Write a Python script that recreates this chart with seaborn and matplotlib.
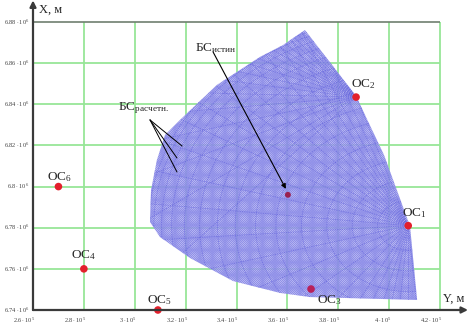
'''
Position fan of the base station computed from six observation stations.
Axes follow the geodetic convention: X is north (vertical), Y is east.
'''

import numpy as np
import pandas as pd
import matplotlib
matplotlib.use('Agg')
import matplotlib.pyplot as plt
from matplotlib.collections import LineCollection
from matplotlib.patches import Polygon
import seaborn as sns

# Data ------------------------------------------------------------------------

station_names = ['ОС$_1$', 'ОС$_2$', 'ОС$_3$', 'ОС$_4$', 'ОС$_5$', 'ОС$_6$']
station_y = [407500, 387000, 369300, 280000, 309100, 270000]
station_x = [6781000, 6843500, 6750200, 6760000, 6740000, 6800000]
# label offsets from the dot, in points
label_dx = [-4.5, -3.5, 4.5, -9.5, -7.5, -8.0]
label_dy = [7.0, 7.0, -10.0, 8.0, 5.0, 4.5]

bs_true_y, bs_true_x = 360200, 6796000

# outline of the cloud of computed positions (Y, X)
fan_edge_y = [366900, 387000, 398000, 408200, 411000, 368900, 357100, 338600,
              321700, 309900, 306000, 306400, 308700, 311900, 317800, 332300,
              349200, 358300]
fan_edge_x = [6876100, 6844000, 6815300, 6780800, 6744900, 6746300, 6748300,
              6754100, 6765300, 6775500, 6782800, 6798300, 6812900, 6825100,
              6832400, 6849400, 6863000, 6868800]

# directions (deg) of the visible rays and radii (km) of the visible arcs
rays_oc1 = [108, 111, 114, 117, 120, 124, 128, 133, 138, 144, 150, 157, 165,
            174, 184, 195, 207, 220, 232, 242, 249, 255, 260, 265, 270, 275]
rays_oc2 = [118, 121, 124, 127, 130, 133, 137, 141, 145, 149, 154, 159, 165,
            171, 178, 186, 195, 205, 216, 228]
arcs_oc1 = [12, 22, 32, 42, 52, 60, 68, 75, 82, 88, 93, 97, 100, 102]

y_ticks = [260000, 280000, 300000, 320000, 340000, 360000, 380000, 400000,
           420000]
y_tick_labels = ['2.6', '2.8', '3', '3.2', '3.4', '3.6', '3.8', '4', '4.2']
x_ticks = [6740000, 6760000, 6780000, 6800000, 6820000, 6840000, 6860000,
           6880000]
x_tick_labels = ['6.74', '6.76', '6.78', '6.8', '6.82', '6.84', '6.86', '6.88']

# Style -----------------------------------------------------------------------

sns.set_style('white')
plt.rcParams['font.family'] = ['Liberation Serif', 'DejaVu Serif']
plt.rcParams['mathtext.fontset'] = 'custom'
plt.rcParams['mathtext.rm'] = 'Liberation Serif'
plt.rcParams['mathtext.it'] = 'Liberation Serif'
plt.rcParams['hatch.linewidth'] = 0.45

fan_color = '#6464dc'
grid_color = '#97e697'
red = '#e3202c'

fig = plt.figure(figsize=(4.68, 3.29), dpi=100)
ax = fig.add_axes([33 / 468, 19 / 329, 435 / 468, 310 / 329])
ax.set_xlim(260000, 431000)
ax.set_ylim(6740000, 6890700)
for s in ax.spines.values():
    s.set_visible(False)
ax.set_xticks([])
ax.set_yticks([])

# grid
ax.vlines(y_ticks[1:], x_ticks[0], x_ticks[-1], color=grid_color, lw=1.3,
          zorder=1)
ax.hlines(x_ticks[1:-1], y_ticks[0], y_ticks[-1], color=grid_color, lw=1.3,
          zorder=1)
ax.hlines(x_ticks[-1], y_ticks[0], y_ticks[-1], color='#6f7f6f', lw=1.2,
          zorder=1)

# axes with arrows
arrow = dict(arrowstyle='-|>', color='#3a3a3a', lw=1.6, mutation_scale=9,
             shrinkA=0, shrinkB=0)
ax.annotate('', xy=(431000, 6740000), xytext=(260000, 6740000),
            arrowprops=arrow, annotation_clip=False, zorder=6)
ax.annotate('', xy=(260000, 6890500), xytext=(260000, 6740000),
            arrowprops=arrow, annotation_clip=False, zorder=6)
ax.text(262500, 6886000, 'X, м', fontsize=9, va='center', ha='left')
ax.text(429500, 6742500, 'Y, м', fontsize=9, va='bottom', ha='right')

for yt, lab in zip(y_ticks, y_tick_labels):
    ax.annotate(rf'${lab}\cdot10^{{5}}$', xy=(yt, 6740000),
                xytext=(1.5, -4), textcoords='offset points', ha='right',
                va='top', fontsize=4.6, color='#444444',
                annotation_clip=False)
for xt, lab in zip(x_ticks, x_tick_labels):
    ax.annotate(rf'${lab}\cdot10^{{6}}$', xy=(260000, xt),
                xytext=(-2.5, 0), textcoords='offset points', ha='right',
                va='center', fontsize=4.6, color='#444444',
                annotation_clip=False)

# cloud of computed positions
fan = Polygon(np.column_stack([fan_edge_y, fan_edge_x]), closed=True,
              facecolor='#dedefa', edgecolor='#7474e2', lw=0,
              hatch='xxxxxxxxxxxxxxxxxx', alpha=0.75, zorder=2)
ax.add_patch(fan)

segs = []
for ang in rays_oc1:
    t = np.deg2rad(ang)
    segs.append([(station_y[0], station_x[0]),
                 (station_y[0] + 115000 * np.cos(t),
                  station_x[0] + 115000 * np.sin(t))])
for ang in rays_oc2:
    t = np.deg2rad(ang)
    segs.append([(station_y[1], station_x[1]),
                 (station_y[1] + 115000 * np.cos(t),
                  station_x[1] + 115000 * np.sin(t))])
theta = np.deg2rad(np.arange(90, 291))
for r in arcs_oc1:
    segs.append(np.column_stack([station_y[0] + r * 1000 * np.cos(theta),
                                 station_x[0] + r * 1000 * np.sin(theta)]))
lc = LineCollection(segs, colors=fan_color, linewidths=0.6,
                    linestyles=(0, (1.5, 1.3)), alpha=0.7, zorder=3)
ax.add_collection(lc)
clip = Polygon(np.column_stack([fan_edge_y, fan_edge_x]), closed=True,
               transform=ax.transData)
lc.set_clip_path(clip)

# stations and the true base station
stations = pd.DataFrame({'Y': station_y + [bs_true_y],
                         'X': station_x + [bs_true_x],
                         'kind': ['os', 'os', 'in', 'os', 'os', 'os', 'bs']})
sns.scatterplot(data=stations, x='Y', y='X', hue='kind', size='kind',
                palette={'os': red, 'in': '#b8205a', 'bs': '#9a2050'},
                sizes={'os': 30, 'in': 30, 'bs': 18}, edgecolor='none',
                legend=False, ax=ax, zorder=5, clip_on=False)

# labels
for name, sy, sx, dx, dy in zip(station_names, station_y, station_x,
                                label_dx, label_dy):
    ax.annotate(name, xy=(sy, sx), xytext=(dx, dy),
                textcoords='offset points', fontsize=9.5, ha='left',
                va='baseline', zorder=7)

ax.text(323700, 6865900, 'БС$_{\\mathrm{истин}}$', fontsize=9.5, ha='left',
        va='baseline', zorder=7)
ax.annotate('', xy=(359400, 6798900), xytext=(330800, 6865400),
            arrowprops=dict(arrowstyle='-|>', color='black', lw=0.8,
                            mutation_scale=7, shrinkA=0, shrinkB=0),
            zorder=7)

ax.text(293400, 6837200, 'БС$_{\\mathrm{расчетн.}}$', fontsize=9.5,
        ha='left', va='baseline', zorder=7)
for ey, ex in [(318600, 6819700), (316600, 6813900), (316600, 6807100)]:
    ax.plot([306000, ey], [6832400, ex], color='black', lw=0.7, zorder=7)

fig.savefig('out.png', dpi=100)
